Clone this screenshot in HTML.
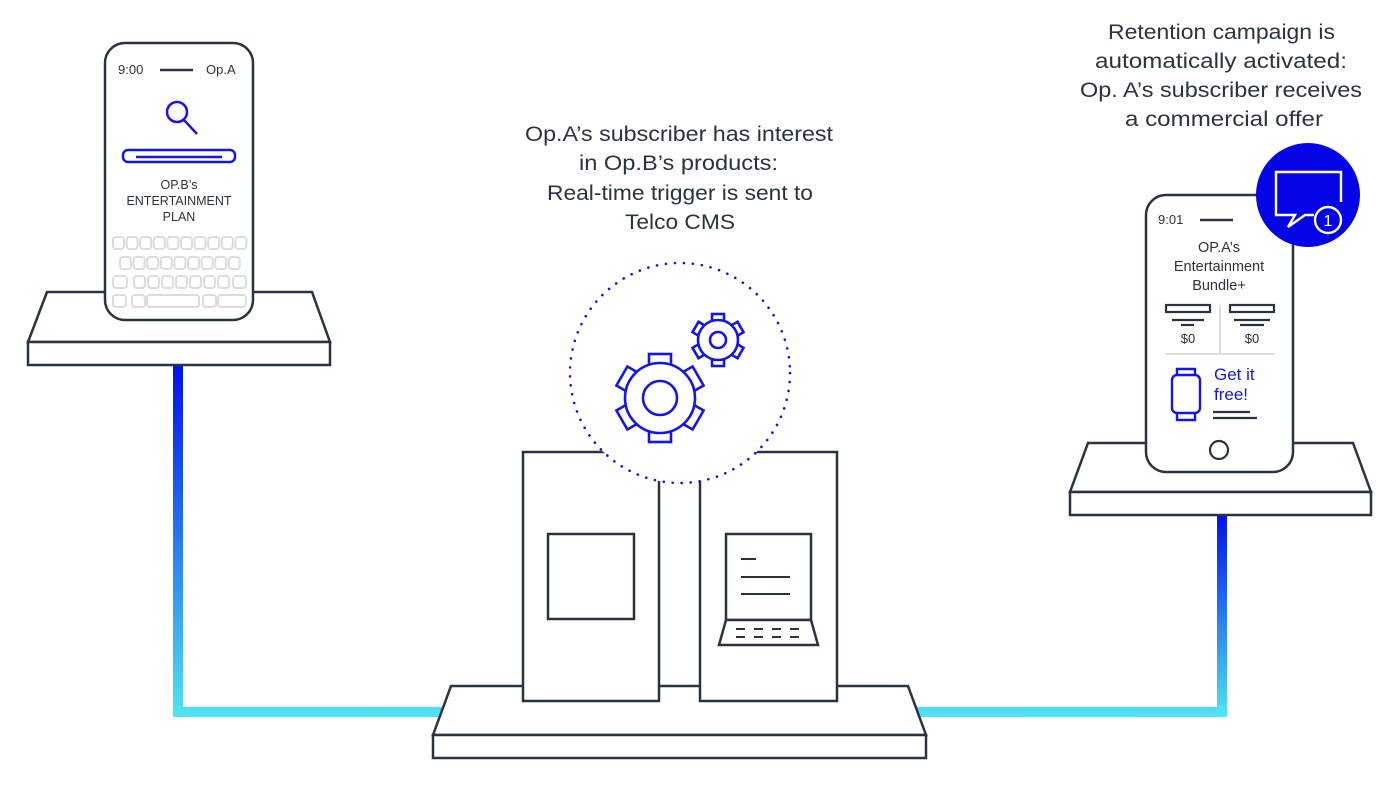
<!DOCTYPE html>
<html><head><meta charset="utf-8"><style>
html,body{margin:0;padding:0;background:#fff;}
svg{display:block;}
text{font-family:"Liberation Sans",sans-serif;fill:#2a3340;}
</style></head><body>
<svg width="1400" height="812" viewBox="0 0 1400 812" xmlns="http://www.w3.org/2000/svg">
<defs>
<linearGradient id="gl" x1="0" y1="365" x2="0" y2="715" gradientUnits="userSpaceOnUse">
<stop offset="0" stop-color="#0010ee"/><stop offset="1" stop-color="#4ee3f2"/></linearGradient>
<linearGradient id="gr" x1="0" y1="515" x2="0" y2="715" gradientUnits="userSpaceOnUse">
<stop offset="0" stop-color="#0010ee"/><stop offset="1" stop-color="#4ee3f2"/></linearGradient>
</defs>
<g fill="none" stroke-linejoin="miter">
<path d="M178 365 V712 H450" stroke="url(#gl)" stroke-width="10"/>
<path d="M910 712 H1222 V515" stroke="url(#gr)" stroke-width="10"/>
<rect x="173" y="706" width="10" height="11" fill="#4ee3f2"/>
<rect x="1217" y="706" width="10" height="11" fill="#4ee3f2"/>
</g>
<g stroke="#2a3340" stroke-width="2.5" fill="#fff">
<polygon points="47,292 312,292 330,342 28,342"/>
<rect x="28" y="342" width="302" height="23"/>
<polygon points="1088,443 1353,443 1371,492 1070,492"/>
<rect x="1070" y="492" width="301" height="23"/>
<polygon points="451,686 908,686 926,735 433,735"/>
<rect x="433" y="735" width="493" height="23"/>
<rect x="523" y="452" width="136" height="249"/>
<rect x="700" y="452" width="137" height="249"/>
<rect x="548" y="534" width="86" height="85"/>
<rect x="726" y="534" width="85" height="86"/>
<polygon points="726,620 811,620 818,645 719,645"/>
</g>
<g stroke="#2a3340" stroke-width="2" fill="none">
<line x1="741" y1="559" x2="756" y2="559"/>
<line x1="741" y1="577" x2="790" y2="577"/>
<line x1="741" y1="594" x2="790" y2="594"/>
<line x1="736" y1="629" x2="801" y2="629" stroke-dasharray="9,9"/>
<line x1="736" y1="637" x2="801" y2="637" stroke-dasharray="9,9"/>
</g>
<circle cx="680" cy="373" r="110" fill="#fff" stroke="none"/>
<circle cx="680" cy="373" r="110" fill="none" stroke="#1010ee" stroke-width="2.6" stroke-dasharray="0.1,8.9" stroke-linecap="round"/>
<g stroke="#1414ee" stroke-width="2.6" fill="#fff">
<g transform="translate(660,398)">
<rect x="-11" y="-44" width="22" height="14"/>
<rect x="-11" y="-44" width="22" height="14" transform="rotate(60)"/>
<rect x="-11" y="-44" width="22" height="14" transform="rotate(120)"/>
<rect x="-11" y="-44" width="22" height="14" transform="rotate(180)"/>
<rect x="-11" y="-44" width="22" height="14" transform="rotate(240)"/>
<rect x="-11" y="-44" width="22" height="14" transform="rotate(300)"/>
<circle r="35"/>
<circle r="17"/>
</g>
<g transform="translate(718,340)">
<rect x="-6" y="-26" width="12" height="9"/>
<rect x="-6" y="-26" width="12" height="9" transform="rotate(60)"/>
<rect x="-6" y="-26" width="12" height="9" transform="rotate(120)"/>
<rect x="-6" y="-26" width="12" height="9" transform="rotate(180)"/>
<rect x="-6" y="-26" width="12" height="9" transform="rotate(240)"/>
<rect x="-6" y="-26" width="12" height="9" transform="rotate(300)"/>
<circle r="20"/>
<circle r="8"/>
</g>
</g>
<rect x="105" y="43" width="148" height="277" rx="20" fill="#fff" stroke="#2a3340" stroke-width="2.5"/>
<text x="118" y="74" font-size="13">9:00</text>
<line x1="160" y1="70" x2="193" y2="70" stroke="#2a3340" stroke-width="2.5"/>
<text x="206" y="74" font-size="13">Op.A</text>
<circle cx="177" cy="112" r="10" fill="none" stroke="#1414ee" stroke-width="2.5"/>
<line x1="184" y1="120" x2="197" y2="134" stroke="#1414ee" stroke-width="2.5"/>
<rect x="123" y="150" width="112" height="12" rx="5" fill="none" stroke="#1414ee" stroke-width="2.5"/>
<line x1="136" y1="157" x2="222" y2="157" stroke="#1414ee" stroke-width="2.5"/>
<g font-size="12.5" text-anchor="middle">
<text x="179" y="189">OP.B’s</text>
<text x="179" y="205">ENTERTAINMENT</text>
<text x="179" y="221">PLAN</text>
</g>
<g fill="none" stroke="#dcdcdc" stroke-width="2">
<rect x="113" y="237" width="11" height="12" rx="3"/><rect x="126.6" y="237" width="11" height="12" rx="3"/><rect x="140.2" y="237" width="11" height="12" rx="3"/><rect x="153.8" y="237" width="11" height="12" rx="3"/><rect x="167.4" y="237" width="11" height="12" rx="3"/><rect x="181" y="237" width="11" height="12" rx="3"/><rect x="194.6" y="237" width="11" height="12" rx="3"/><rect x="208.2" y="237" width="11" height="12" rx="3"/><rect x="221.8" y="237" width="11" height="12" rx="3"/><rect x="235.4" y="237" width="11" height="12" rx="3"/>
<rect x="120" y="257" width="11" height="12" rx="3"/><rect x="133.6" y="257" width="11" height="12" rx="3"/><rect x="147.2" y="257" width="11" height="12" rx="3"/><rect x="160.8" y="257" width="11" height="12" rx="3"/><rect x="174.4" y="257" width="11" height="12" rx="3"/><rect x="188" y="257" width="11" height="12" rx="3"/><rect x="201.6" y="257" width="11" height="12" rx="3"/><rect x="215.2" y="257" width="11" height="12" rx="3"/><rect x="228.8" y="257" width="11" height="12" rx="3"/>
<rect x="113" y="276" width="14" height="12" rx="3"/><rect x="134" y="276" width="11" height="12" rx="3"/><rect x="148" y="276" width="11" height="12" rx="3"/><rect x="162" y="276" width="11" height="12" rx="3"/><rect x="176" y="276" width="11" height="12" rx="3"/><rect x="190" y="276" width="11" height="12" rx="3"/><rect x="204" y="276" width="11" height="12" rx="3"/><rect x="218" y="276" width="11" height="12" rx="3"/><rect x="233" y="276" width="13" height="12" rx="3"/>
<rect x="113" y="295" width="13" height="12" rx="3"/><rect x="132" y="295" width="13" height="12" rx="3"/><rect x="147" y="295" width="52" height="12" rx="3"/><rect x="203" y="295" width="13" height="12" rx="3"/><rect x="218" y="295" width="28" height="12" rx="3"/>
</g>
<rect x="1146" y="195" width="147" height="277" rx="20" fill="#fff" stroke="#2a3340" stroke-width="2.5"/>
<text x="1158" y="224" font-size="13">9:01</text>
<line x1="1200" y1="220" x2="1233" y2="220" stroke="#2a3340" stroke-width="2.5"/>
<g font-size="14.5" text-anchor="middle">
<text x="1219" y="252">OP.A’s</text>
<text x="1219" y="271">Entertainment</text>
<text x="1219" y="290">Bundle+</text>
</g>
<g stroke="#2a3340" stroke-width="2.2" fill="none">
<rect x="1166" y="305" width="44" height="7"/>
<rect x="1230" y="305" width="44" height="7"/>
<line x1="1172" y1="320" x2="1204" y2="320"/><line x1="1181" y1="325" x2="1194" y2="325"/>
<line x1="1234" y1="320" x2="1270" y2="320"/><line x1="1240" y1="325" x2="1264" y2="325"/>
<line x1="1213" y1="412" x2="1250" y2="412"/><line x1="1213" y1="418" x2="1257" y2="418"/>
<circle cx="1219" cy="450" r="9"/>
</g>
<line x1="1220" y1="305" x2="1220" y2="353" stroke="#dddddd" stroke-width="2"/>
<line x1="1165" y1="354" x2="1275" y2="354" stroke="#dddddd" stroke-width="2"/>
<text x="1188" y="343" font-size="13" text-anchor="middle">$0</text>
<text x="1252" y="343" font-size="13" text-anchor="middle">$0</text>
<g stroke="#1414ee" stroke-width="2.4" fill="none">
<rect x="1172" y="375" width="28" height="38" rx="5"/>
<path d="M1177 375 V369 H1195 V375 M1177 413 V420 H1195 V413"/>
</g>
<text x="1214" y="380" font-size="17" style="fill:#1414ee">Get it</text>
<text x="1214" y="400" font-size="17" style="fill:#1414ee">free!</text>
<circle cx="1308" cy="195" r="52" fill="#0404e6"/>
<g stroke="#fff" stroke-width="2.4" fill="none">
<path d="M1341 202 V172 H1276 V215 H1295 L1288 227 L1305 215 H1314"/>
<circle cx="1328" cy="220" r="13"/>
</g>
<text x="1328" y="226" font-size="16" text-anchor="middle" style="fill:#fff">1</text>
<g font-size="21.5">
<text x="525" y="141" textLength="308" lengthAdjust="spacingAndGlyphs">Op.A’s subscriber has interest</text>
<text x="579" y="170" textLength="199" lengthAdjust="spacingAndGlyphs">in Op.B’s products:</text>
<text x="547" y="200" textLength="266" lengthAdjust="spacingAndGlyphs">Real-time trigger is sent to</text>
<text x="625" y="229" textLength="110" lengthAdjust="spacingAndGlyphs">Telco CMS</text>
<text x="1108" y="39" textLength="227" lengthAdjust="spacingAndGlyphs">Retention campaign is</text>
<text x="1095" y="68" textLength="252" lengthAdjust="spacingAndGlyphs">automatically activated:</text>
<text x="1080" y="97" textLength="282" lengthAdjust="spacingAndGlyphs">Op. A’s subscriber receives</text>
<text x="1125" y="126" textLength="198" lengthAdjust="spacingAndGlyphs">a commercial offer</text>
</g>
</svg>
</body></html>
